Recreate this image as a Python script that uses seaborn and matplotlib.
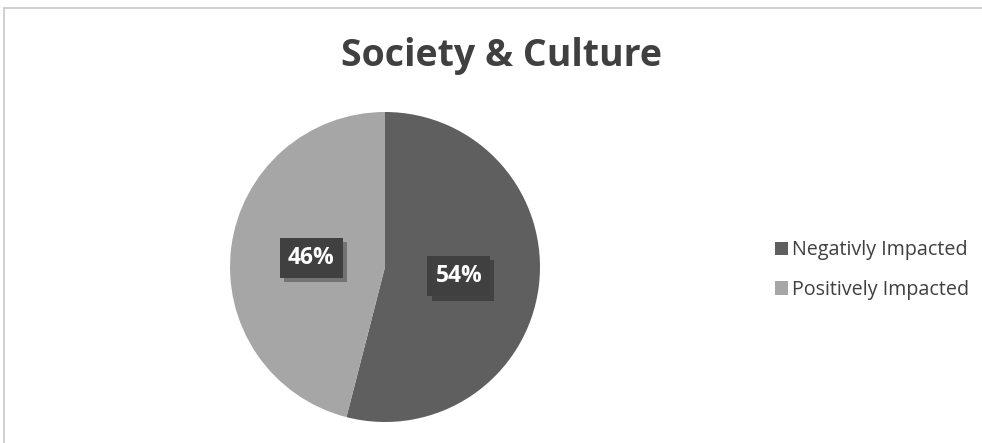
import matplotlib
matplotlib.use("Agg")
import matplotlib.pyplot as plt
import matplotlib.patheffects as pe
from matplotlib.patches import Patch
from matplotlib.lines import Line2D
import seaborn as sns

labels = ["Negativly Impacted", "Positively Impacted"]
values = [54, 46]
colors = ["#5f5f5f", "#a6a6a6"]
title = "Society & Culture"

sns.set_theme(style="white")
plt.rcParams['font.family'] = ['Open Sans', 'DejaVu Sans']

fig = plt.figure(figsize=(9.82, 4.43), dpi=100)
W, H = 982, 443

# outer frame
fig.add_artist(Line2D([4/W, 4/W], [0, 1 - 8/H], transform=fig.transFigure, color="#c8c8c8", lw=1.2))
fig.add_artist(Line2D([4/W, 1], [1 - 8/H, 1 - 8/H], transform=fig.transFigure, color="#c8c8c8", lw=1.2))

ax = fig.add_axes([230/W, 21/H, 310/W, 310/H])
wedges, texts, autotexts = ax.pie(values, colors=colors, startangle=90, counterclock=False,
                                  autopct="%d%%", pctdistance=0.48, radius=1.0,
                                  wedgeprops=dict(linewidth=0))
for t in autotexts:
    t.set_color("white")
    t.set_fontweight("bold")
    t.set_fontsize(16.5)
    t.set_bbox(dict(boxstyle="square,pad=0.35", facecolor="#404040", edgecolor="none"))
    t.get_bbox_patch().set_path_effects([pe.withSimplePatchShadow(offset=(3, -3), shadow_rgbFace="#000000", alpha=0.3)])
ax.set_xlim(-1, 1)
ax.set_ylim(-1, 1)
ax.set_aspect("equal")
ax.axis("off")

fig.text(501/W, 1 - 56/H, title, ha="center", va="center", fontsize=27, fontweight="bold", color="#404040")

handles = [Patch(facecolor=c, edgecolor="none") for c in colors]
leg = fig.legend(handles, labels, loc="center left", bbox_to_anchor=(757/W, 1 - 270/H),
                 frameon=False, fontsize=14.2, handlelength=0.65, handleheight=0.65,
                 handletextpad=0.2, labelspacing=1.0, labelcolor="#404040")

fig.savefig("out.png", dpi=100, facecolor="white")
